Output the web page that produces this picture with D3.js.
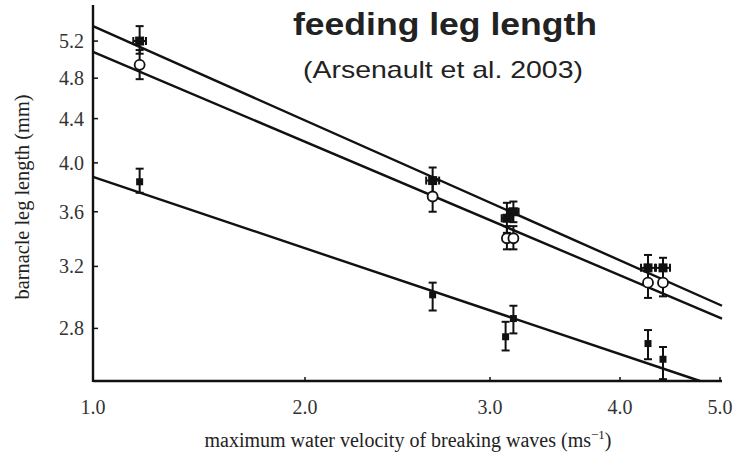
<!DOCTYPE html>
<html>
<head>
    <meta charset="utf-8">
    <script src="https://d3js.org/d3.v7.min.js"></script>
    <style>
        body {
            margin: 0;
            background-color: white;
        }

        svg text.tick-label {
            font-family: 'Liberation Serif', 'Times New Roman', serif;
            font-size: 20px;
            fill: #333;
        }

        svg text.axis-title {
            font-family: 'Liberation Serif', 'Times New Roman', serif;
            font-size: 20px;
            fill: #222;
        }
    </style>
</head>

<body>
    <svg id="chart" width="734" height="461"></svg>
    <script>
        // velocity (m/s) of each sampled site
        const velocity = [1.22, 2.69, 3.13, 3.18, 4.28, 4.43];
        // horizontal error on velocity
        const velocityErr = [0.03, 0.035, 0.04, 0.04, 0.07, 0.07];

        // filled squares (top line)
        const legFilled = [5.20, 3.85, 3.55, 3.60, 3.19, 3.19];
        const legFilledLo = [5.06, 3.74, 3.44, 3.52, 3.08, 3.09];
        const legFilledHi = [5.37, 3.96, 3.67, 3.68, 3.28, 3.26];

        // open circles (middle line)
        const legOpen = [4.94, 3.72, 3.40, 3.40, 3.09, 3.09];
        const legOpenLo = [4.79, 3.60, 3.32, 3.32, 2.99, 3.00];
        const legOpenHi = [5.10, 3.83, 3.49, 3.49, 3.18, 3.18];

        // small filled markers (bottom line)
        const velocityLow = [1.22, 2.69, 3.12, 3.18, 4.28, 4.43];
        const legLow = [3.84, 3.01, 2.75, 2.86, 2.71, 2.62];
        const legLowLo = [3.75, 2.91, 2.67, 2.77, 2.62, 2.51];
        const legLowHi = [3.95, 3.09, 2.84, 2.94, 2.79, 2.69];

        // regression lines: [x0, y0, x1, y1]
        const fitTop = [1.0, 5.37, 5.02, 2.94];
        const fitMid = [1.0, 5.08, 5.02, 2.86];
        const fitLow = [1.0, 3.88, 4.80, 2.50];

        const xTicks = [1.0, 2.0, 3.0, 4.0, 5.0];
        const yTicks = [2.8, 3.2, 3.6, 4.0, 4.4, 4.8, 5.2];

        const svg = d3.select('#chart');

        // the x axis of the original figure is not evenly spaced
        const x = d3.scaleLinear().domain(xTicks).range([93, 305, 490, 620, 720]);
        const y = d3.scaleLog().domain([2.5, 5.62]).range([381, 5]);

        // axes
        const axis = svg.append('g');
        axis.append('line')
            .attr('x1', x(1)).attr('x2', x(5) + 2)
            .attr('y1', y(2.5)).attr('y2', y(2.5))
            .attr('stroke', '#111').attr('stroke-width', 2.4);
        axis.append('line')
            .attr('x1', x(1)).attr('x2', x(1))
            .attr('y1', y(5.62)).attr('y2', y(2.5) + 1)
            .attr('stroke', '#111').attr('stroke-width', 2.4);

        axis.selectAll('.ytick')
            .data(yTicks)
            .join('line')
            .attr('x1', x(1)).attr('x2', x(1) + 5)
            .attr('y1', d => y(d)).attr('y2', d => y(d))
            .attr('stroke', '#111').attr('stroke-width', 1.5);

        axis.selectAll('.ylabel')
            .data(yTicks)
            .join('text')
            .attr('class', 'tick-label')
            .attr('x', x(1) - 9)
            .attr('y', d => y(d) + 7)
            .attr('text-anchor', 'end')
            .text(d => d.toFixed(1));

        axis.selectAll('.xtick')
            .data(xTicks.slice(1))
            .join('line')
            .attr('x1', d => x(d)).attr('x2', d => x(d))
            .attr('y1', y(2.5)).attr('y2', y(2.5) - 4)
            .attr('stroke', '#111').attr('stroke-width', 1.5);

        axis.selectAll('.xlabel')
            .data(xTicks)
            .join('text')
            .attr('class', 'tick-label')
            .attr('x', d => x(d))
            .attr('y', 414)
            .attr('text-anchor', 'middle')
            .text(d => d.toFixed(1));

        // axis titles
        const xt = svg.append('text')
            .attr('class', 'axis-title')
            .attr('x', 408)
            .attr('y', 447)
            .attr('text-anchor', 'middle')
            .text('maximum water velocity of breaking waves (ms');
        xt.append('tspan').attr('dy', -8).attr('font-size', 13).text('\u22121');
        xt.append('tspan').attr('dy', 8).text(')');

        svg.append('text')
            .attr('class', 'axis-title')
            .attr('transform', 'translate(29,197) rotate(-90)')
            .attr('text-anchor', 'middle')
            .attr('textLength', 205)
            .attr('lengthAdjust', 'spacingAndGlyphs')
            .text('barnacle leg length (mm)');

        // title
        svg.append('text')
            .attr('x', 445).attr('y', 35)
            .attr('text-anchor', 'middle')
            .attr('font-family', "'Liberation Sans', Arial, sans-serif")
            .attr('font-weight', 'bold')
            .attr('font-size', 31)
            .attr('textLength', 304)
            .attr('lengthAdjust', 'spacingAndGlyphs')
            .attr('fill', '#222')
            .text('feeding leg length');
        svg.append('text')
            .attr('x', 443).attr('y', 78)
            .attr('text-anchor', 'middle')
            .attr('font-family', "'Liberation Sans', Arial, sans-serif")
            .attr('font-size', 24)
            .attr('textLength', 280)
            .attr('lengthAdjust', 'spacingAndGlyphs')
            .attr('fill', '#222')
            .text('(Arsenault et al. 2003)');

        // regression lines
        const plot = svg.append('g');
        plot.selectAll('.fit')
            .data([fitTop, fitMid, fitLow])
            .join('line')
            .attr('x1', d => x(d[0])).attr('y1', d => y(d[1]))
            .attr('x2', d => x(d[2])).attr('y2', d => y(d[3]))
            .attr('stroke', '#111')
            .attr('stroke-width', 2.4);

        function errorBars(xs, mid, lo, hi, xErr) {
            const g = plot.append('g').attr('stroke', '#111').attr('stroke-width', 2);
            const idx = d3.range(xs.length);
            g.selectAll('.v').data(idx).join('line')
                .attr('x1', i => x(xs[i])).attr('x2', i => x(xs[i]))
                .attr('y1', i => y(lo[i])).attr('y2', i => y(hi[i]));
            g.selectAll('.ct').data(idx).join('line')
                .attr('x1', i => x(xs[i]) - 4).attr('x2', i => x(xs[i]) + 4)
                .attr('y1', i => y(hi[i])).attr('y2', i => y(hi[i]));
            g.selectAll('.cb').data(idx).join('line')
                .attr('x1', i => x(xs[i]) - 4).attr('x2', i => x(xs[i]) + 4)
                .attr('y1', i => y(lo[i])).attr('y2', i => y(lo[i]));
            if (xErr) {
                g.selectAll('.h').data(idx).join('line')
                    .attr('x1', i => x(xs[i] - xErr[i])).attr('x2', i => x(xs[i] + xErr[i]))
                    .attr('y1', i => y(mid[i])).attr('y2', i => y(mid[i]));
                g.selectAll('.hl').data(idx).join('line')
                    .attr('x1', i => x(xs[i] - xErr[i])).attr('x2', i => x(xs[i] - xErr[i]))
                    .attr('y1', i => y(mid[i]) - 4).attr('y2', i => y(mid[i]) + 4);
                g.selectAll('.hr').data(idx).join('line')
                    .attr('x1', i => x(xs[i] + xErr[i])).attr('x2', i => x(xs[i] + xErr[i]))
                    .attr('y1', i => y(mid[i]) - 4).attr('y2', i => y(mid[i]) + 4);
            }
        }

        errorBars(velocityLow, legLow, legLowLo, legLowHi, null);
        errorBars(velocity, legOpen, legOpenLo, legOpenHi, null);
        errorBars(velocity, legFilled, legFilledLo, legFilledHi, velocityErr);

        // markers
        plot.selectAll('.low')
            .data(d3.range(legLow.length))
            .join('rect')
            .attr('x', i => x(velocityLow[i]) - 3.5)
            .attr('y', i => y(legLow[i]) - 3.5)
            .attr('width', 7).attr('height', 7)
            .attr('fill', '#111');

        plot.selectAll('.open')
            .data(d3.range(legOpen.length))
            .join('circle')
            .attr('cx', i => x(velocity[i]))
            .attr('cy', i => y(legOpen[i]))
            .attr('r', 5)
            .attr('fill', 'white')
            .attr('stroke', '#111')
            .attr('stroke-width', 1.8);

        plot.selectAll('.filled')
            .data(d3.range(legFilled.length))
            .join('rect')
            .attr('x', i => x(velocity[i]) - 4.5)
            .attr('y', i => y(legFilled[i]) - 4.5)
            .attr('width', 9).attr('height', 9)
            .attr('fill', '#111');
    </script>
</body>
</html>
